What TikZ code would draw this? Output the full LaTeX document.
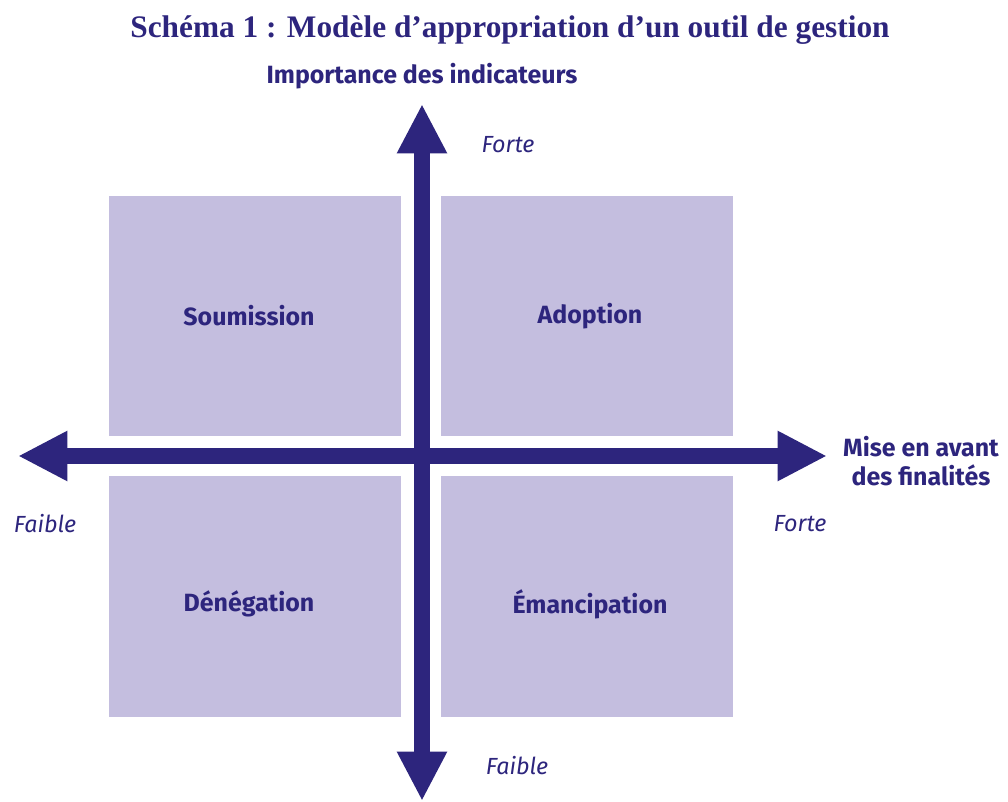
\documentclass[tikz,border=0pt]{standalone}
\usepackage{fontspec}
\setmainfont{Liberation Serif}
\newfontfamily\marfont{Fira Sans}
\usetikzlibrary{arrows.meta}
\definecolor{axeblue}{RGB}{45,37,125}
\definecolor{quadfill}{RGB}{196,190,223}
\tikzset{
  quad/.style={fill=quadfill, draw=none, minimum width=219pt, minimum height=180pt, inner sep=0pt},
  lab/.style={text=axeblue, font=\marfont\bfseries\fontsize{18.7}{22}\selectfont},
  pole/.style={text=axeblue, font=\marfont\itshape\fontsize{17.5}{21}\selectfont},
  axe/.style={draw=axeblue, line width=12pt, -{Triangle[length=37pt,width=35pt]}}
}
\begin{document}
\begin{tikzpicture}[x=0.75pt,y=0.75pt,yscale=-1,xscale=1]
\useasboundingbox (0,0) rectangle (1008,802);

% quadrants
\node [quad] (soum) at (255,316) {};
\node [quad] (adop) at (586.5,316) {};
\node [quad] (deneg) at (255,596.5) {};
\node [quad] (emanc) at (586.5,596.5) {};

\node [lab] (lsoum) at (249,316) {Soumission};
\node [lab] (ladop) at (590,316) {Adoption};
\node [lab] (ldeneg) at (249,604) {Dénégation};
\node [lab] (lemanc) at (590,604) {Émancipation};

% axes
\coordinate (ouest) at (18,456);
\coordinate (est) at (827,456);
\coordinate (nord) at (422,104);
\coordinate (sud) at (422,801);
\coordinate (centre) at (422,456);

\draw [axe] (centre) -- (ouest);
\draw [axe] (centre) -- (est);
\draw [axe] (centre) -- (nord);
\draw [axe] (centre) -- (sud);

% texts
\node [text=axeblue, font=\bfseries\fontsize{23.5}{28}\selectfont] (titre) at (510,30) {Schéma 1 : Modèle d’appropriation d’un outil de gestion};
\node [lab] (ordonnee) at (422,76) {Importance des indicateurs};
\node [lab, align=center] (abscisse) at (921,461) {Mise en avant\\des finalités};

\node [pole] (fhaut) at (508,145) {Forte};
\node [pole] (fbas) at (517,766) {Faible};
\node [pole] (fgauche) at (45,524) {Faible};
\node [pole] (fdroite) at (800,524) {Forte};

\end{tikzpicture}
\end{document}
